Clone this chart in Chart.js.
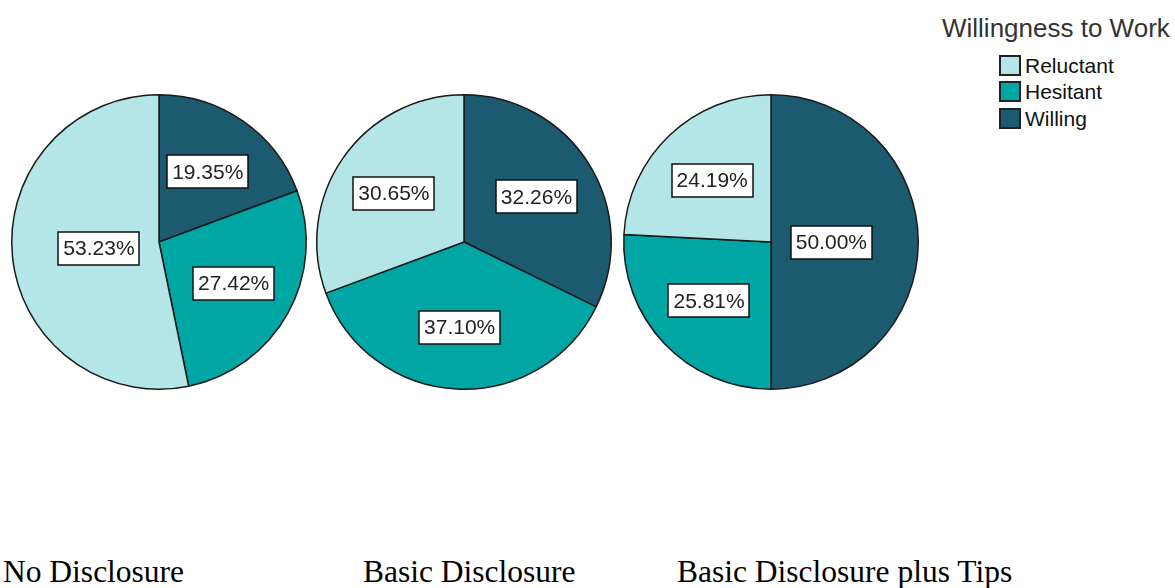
<!DOCTYPE html>
<html>
<head>
<meta charset="utf-8">
<script src="https://cdn.jsdelivr.net/npm/chart.js@4/dist/chart.umd.min.js"></script>
<style>
  html, body { margin: 0; padding: 0; background: #fff; }
  #page { position: relative; width: 1175px; height: 588px; overflow: hidden; }
  canvas.pie { position: absolute; }
  .legend { position: absolute; left: 942px; top: 15px; font-family: "Liberation Sans", Arial, sans-serif; }
  .legend .title { font-size: 26px; line-height: 26px; color: #333; white-space: nowrap; }
  .legend .items { position: absolute; left: 57px; top: 37px; }
  .legend .row { display: flex; align-items: center; height: 26.5px; font-size: 21px; line-height: 21px; color: #111; white-space: nowrap; }
  .legend .sw { width: 18px; height: 17px; border: 2px solid #222; margin-right: 4px; }
  .caption { position: absolute; top: 556px; font-family: "Liberation Serif", "Times New Roman", serif; font-size: 31.5px; line-height: 31.5px; color: #000; white-space: nowrap; }
</style>
</head>
<body>
<div id="page">
  <canvas class="pie" id="pie1" width="320" height="320" style="left:-1px;top:82px"></canvas>
  <canvas class="pie" id="pie2" width="320" height="320" style="left:304px;top:82px"></canvas>
  <canvas class="pie" id="pie3" width="320" height="320" style="left:611px;top:82px"></canvas>
  <div class="legend" id="legend"></div>
  <div class="caption" style="left:3px">No Disclosure</div>
  <div class="caption" style="left:363px">Basic Disclosure</div>
  <div class="caption" style="left:677px">Basic Disclosure plus Tips</div>
</div>
<script>
// legend order, top to bottom
const categories = ['Reluctant', 'Hesitant', 'Willing'];
const colors = ['#b4e6e8', '#00a6a4', '#1c5a70'];

// percentages per group, same order as categories
const noDisclosure = [53.23, 27.42, 19.35];
const basicDisclosure = [30.65, 37.10, 32.26];
const basicPlusTips = [24.19, 25.81, 50.00];

const legendTitle = 'Willingness to Work';

// boxed percentage labels inside each slice
const boxLabels = {
  id: 'boxLabels',
  afterDatasetsDraw(chart) {
    const ctx = chart.ctx;
    const ds = chart.data.datasets[0];
    const meta = chart.getDatasetMeta(0);
    ctx.save();
    ctx.font = '21px "Liberation Sans", Arial, sans-serif';
    ctx.textAlign = 'center';
    ctx.textBaseline = 'middle';
    meta.data.forEach((arc, i) => {
      const p = arc.getProps(['x', 'y', 'startAngle', 'endAngle', 'outerRadius'], true);
      const v = ds.data[i];
      const mid = (p.startAngle + p.endAngle) / 2;
      const f = v >= 45 ? 0.41 : 0.58;
      const cx = p.x + Math.cos(mid) * p.outerRadius * f;
      const cy = p.y + Math.sin(mid) * p.outerRadius * f;
      const txt = v.toFixed(2) + '%';
      const w = ctx.measureText(txt).width + 10;
      const h = 33;
      ctx.fillStyle = '#fff';
      ctx.fillRect(Math.round(cx - w / 2), Math.round(cy - h / 2), Math.round(w), h);
      ctx.strokeStyle = '#111';
      ctx.lineWidth = 1.5;
      ctx.strokeRect(Math.round(cx - w / 2), Math.round(cy - h / 2), Math.round(w), h);
      ctx.fillStyle = '#222';
      ctx.fillText(txt, cx, cy + 1);
    });
    ctx.restore();
  }
};

function makePie(id, values) {
  // chart draws clockwise from 12 o'clock: Willing, Hesitant, Reluctant
  const labels = categories.slice().reverse();
  new Chart(document.getElementById(id), {
    type: 'pie',
    data: {
      labels: labels,
      datasets: [{
        data: values.slice().reverse(),
        backgroundColor: colors.slice().reverse(),
        borderColor: '#1a1a1a',
        borderWidth: 1.5
      }]
    },
    options: {
      responsive: false,
      animation: false,
      layout: { padding: 12 },
      plugins: {
        legend: { display: false },
        tooltip: { enabled: false }
      }
    },
    plugins: [boxLabels]
  });
}

makePie('pie1', noDisclosure);
makePie('pie2', basicDisclosure);
makePie('pie3', basicPlusTips);

// legend
const lg = document.getElementById('legend');
let html = '<div class="title">' + legendTitle + '</div><div class="items">';
categories.forEach((c, i) => {
  html += '<div class="row"><span class="sw" style="background:' + colors[i] + '"></span>' + c + '</div>';
});
html += '</div>';
lg.innerHTML = html;
</script>
</body>
</html>
